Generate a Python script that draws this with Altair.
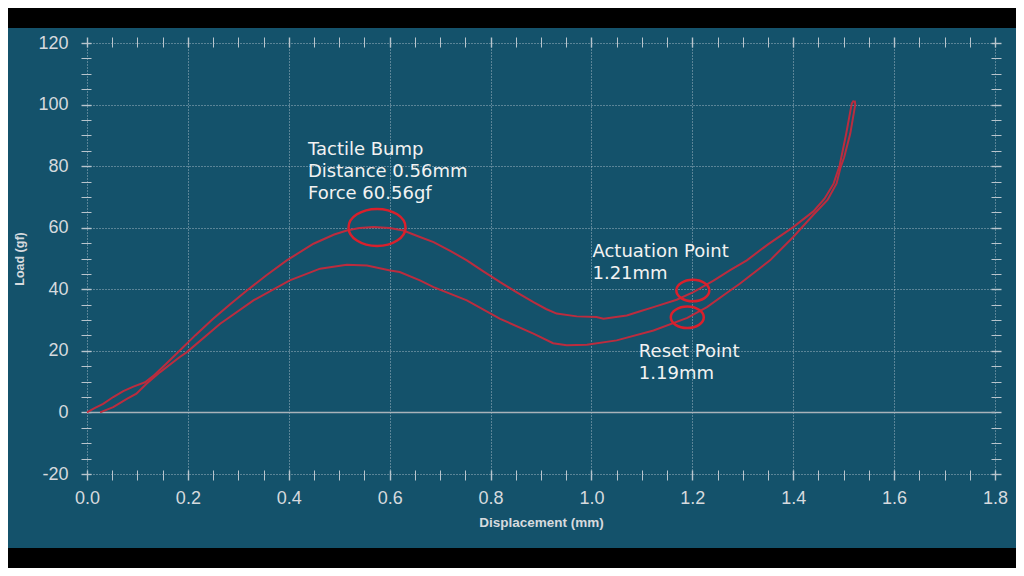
import altair as alt
import pandas as pd

# press stroke (loading curve)
press_x = [0.000, 0.015, 0.032, 0.052, 0.072, 0.092, 0.115, 0.131, 0.158, 0.184,
           0.215, 0.250, 0.285, 0.317, 0.355, 0.396, 0.449, 0.490,
           0.515, 0.540, 0.568, 0.600, 0.627, 0.660, 0.687, 0.720, 0.753, 0.785,
           0.819, 0.852, 0.885, 0.910, 0.931, 0.971, 1.010, 1.024, 1.045, 1.070,
           1.095, 1.123, 1.169, 1.202, 1.242, 1.275, 1.308, 1.350, 1.400, 1.440,
           1.462, 1.480, 1.492, 1.505, 1.516, 1.520]
press_y = [0.0, 1.4, 2.8, 5.0, 6.9, 8.4, 9.8, 11.8, 16.0, 20.1,
           25.1, 30.4, 35.3, 39.6, 44.5, 49.4, 54.8, 57.8,
           59.1, 59.9, 60.2, 59.9, 59.1, 57.0, 55.3, 52.5, 49.4, 45.9,
           42.3, 39.0, 35.8, 33.6, 32.1, 31.2, 31.0, 30.4, 30.9, 31.5,
           32.8, 34.2, 36.6, 39.1, 42.8, 46.2, 49.4, 54.6, 60.2, 65.3,
           69.4, 74.3, 80.2, 90.5, 100.3, 101.3]

# release stroke (return curve), from the top back to rest
release_x = [1.522, 1.523, 1.513, 1.501, 1.494, 1.486, 1.468, 1.440, 1.400, 1.354,
             1.294, 1.275, 1.229, 1.190, 1.123, 1.050, 0.991, 0.951, 0.924, 0.885,
             0.819, 0.753, 0.687, 0.660, 0.620, 0.601, 0.555, 0.515, 0.462, 0.402,
             0.330, 0.264, 0.198, 0.184, 0.145, 0.118, 0.098, 0.079, 0.052, 0.026]
release_y = [101.3, 100.0, 90.5, 82.9, 79.7, 74.4, 69.0, 64.2, 57.0, 49.4,
             41.8, 39.6, 34.2, 30.7, 26.6, 23.4, 22.0, 21.8, 22.5, 25.6,
             30.4, 36.4, 40.7, 42.9, 45.6, 46.1, 47.7, 48.0, 46.7, 42.9,
             36.4, 28.8, 19.6, 18.0, 13.1, 9.3, 6.1, 4.4, 1.7, 0.0]

# circled points
ring_x = [0.575, 1.201, 1.190]
ring_y = [60.1, 39.6, 30.9]
ring_size = [3249, 1089, 1089]

# annotation texts
note_x = [0.438, 1.002, 1.094]
note_y = [88.3, 55.1, 22.4]
note_text = ["Tactile Bump\nDistance 0.56mm\nForce 60.56gf",
             "Actuation Point\n1.21mm",
             "Reset Point\n1.19mm"]

x_ticks = [round(i * 0.05, 2) for i in range(37)]
y_ticks = list(range(-20, 125, 5))

BG = "#14526b"
LINE_RED = "#c42a3c"
RING_RED = "#d9202c"
LABEL = "#d6dade"
ELLIPSE = ("M -1 0 C -1 -0.359 -0.5523 -0.65 0 -0.65 "
           "C 0.5523 -0.65 1 -0.359 1 0 "
           "C 1 0.359 0.5523 0.65 0 0.65 "
           "C -0.5523 0.65 -1 0.359 -1 0 Z")

x_major = "abs(datum.value * 5 - round(datum.value * 5)) < 0.001"
y_major = "datum.value % 20 === 0"

curves = pd.concat([
    pd.DataFrame({"disp": press_x, "load": press_y, "stroke": "press",
                  "step": range(len(press_x))}),
    pd.DataFrame({"disp": release_x, "load": release_y, "stroke": "release",
                  "step": range(len(release_x))}),
])
rings = pd.DataFrame({"disp": ring_x, "load": ring_y, "size": ring_size})
notes = pd.DataFrame({"disp": note_x, "load": note_y, "text": note_text})

x_scale = alt.Scale(domain=[0, 1.8], nice=False)
y_scale = alt.Scale(domain=[-20, 120], nice=False)

tick_style = dict(
    tickSize=10, tickColor="#b9c5cd", offset=-4, domain=False,
)

x_axis = alt.Axis(
    values=x_ticks,
    labelExpr=f"{x_major} ? format(datum.value, '.1f') : ''",
    labelFont="Liberation Sans", labelFontSize=18, labelColor=LABEL,
    labelPadding=9, labelFlush=False, labelOverlap=False,
    tickWidth={"condition": {"test": x_major, "value": 1.4}, "value": 1},
    grid=True, gridColor="#d0dae0", gridDash=[1, 2],
    gridOpacity={"condition": {"test": x_major, "value": 0.75}, "value": 0},
    title="Displacement (mm)", titleFont="Liberation Sans", titleFontSize=13.5,
    titleFontWeight="bold", titleColor=LABEL, titlePadding=8,
    **tick_style,
)
y_axis = alt.Axis(
    values=y_ticks,
    labelExpr=f"{y_major} ? '' + datum.value : ''",
    labelFont="Liberation Sans", labelFontSize=18, labelColor=LABEL,
    labelPadding=13, labelFlush=False, labelOverlap=False,
    tickWidth={"condition": {"test": y_major, "value": 1.4}, "value": 1},
    grid=True, gridColor="#d0dae0", gridDash=[1, 2],
    gridOpacity={"condition": {"test": y_major, "value": 0.75}, "value": 0},
    title="Load (gf)", titleFont="Liberation Sans", titleFontSize=12.5,
    titleFontWeight="bold", titleColor=LABEL, titlePadding=11,
    **tick_style,
)

bands = [
    alt.Chart().mark_rect(color="#000000").encode(
        x=alt.value(-79), x2=alt.value(929), y=alt.value(-35), y2=alt.value(-15)
    ),
    alt.Chart().mark_rect(color="#000000").encode(
        x=alt.value(-79), x2=alt.value(929), y=alt.value(505), y2=alt.value(525)
    ),
]

zero_line = alt.Chart(pd.DataFrame({"load": [0]})).mark_rule(
    color="#a9b3ba", strokeWidth=1.5
).encode(y=alt.Y("load:Q", scale=y_scale, axis=None))

lines = alt.Chart(curves).mark_line(
    color=LINE_RED, strokeWidth=2, opacity=0.95
).encode(
    x=alt.X("disp:Q", scale=x_scale, axis=x_axis),
    y=alt.Y("load:Q", scale=y_scale, axis=y_axis),
    detail="stroke:N",
    order="step:Q",
)

circles = alt.Chart(rings).mark_point(
    shape=ELLIPSE, filled=False, stroke=RING_RED, strokeWidth=2.5, opacity=1
).encode(
    x=alt.X("disp:Q", scale=x_scale, axis=None),
    y=alt.Y("load:Q", scale=y_scale, axis=None),
    size=alt.Size("size:Q", scale=None, legend=None),
)

# the text layer also carries the tick-only axes on top and right
texts = alt.Chart(notes).mark_text(
    align="left", baseline="top", font="DejaVu Sans", fontSize=18,
    lineHeight=22, lineBreak="\n", color="#f2f2f2"
).encode(
    x=alt.X("disp:Q", scale=x_scale, axis=alt.Axis(
        orient="top", values=x_ticks, labels=False, grid=False, title=None,
        tickWidth={"condition": {"test": x_major, "value": 1.4}, "value": 1},
        **tick_style)),
    y=alt.Y("load:Q", scale=y_scale, axis=alt.Axis(
        orient="right", values=y_ticks, labels=False, grid=False, title=None,
        tickWidth={"condition": {"test": y_major, "value": 1.4}, "value": 1},
        **tick_style)),
    text="text:N",
)

chart = (
    alt.layer(*bands, zero_line, lines, circles, texts)
    .resolve_axis(x="independent", y="independent")
    .properties(
        width=908, height=431,
        autosize=alt.AutoSizeParams(type="none"),
        padding={"left": 79, "top": 35, "right": 21, "bottom": 94},
        background=BG,
    )
    .configure_view(strokeWidth=0)
)

chart.save("out.html", embed_options={"renderer": "svg", "actions": False})
